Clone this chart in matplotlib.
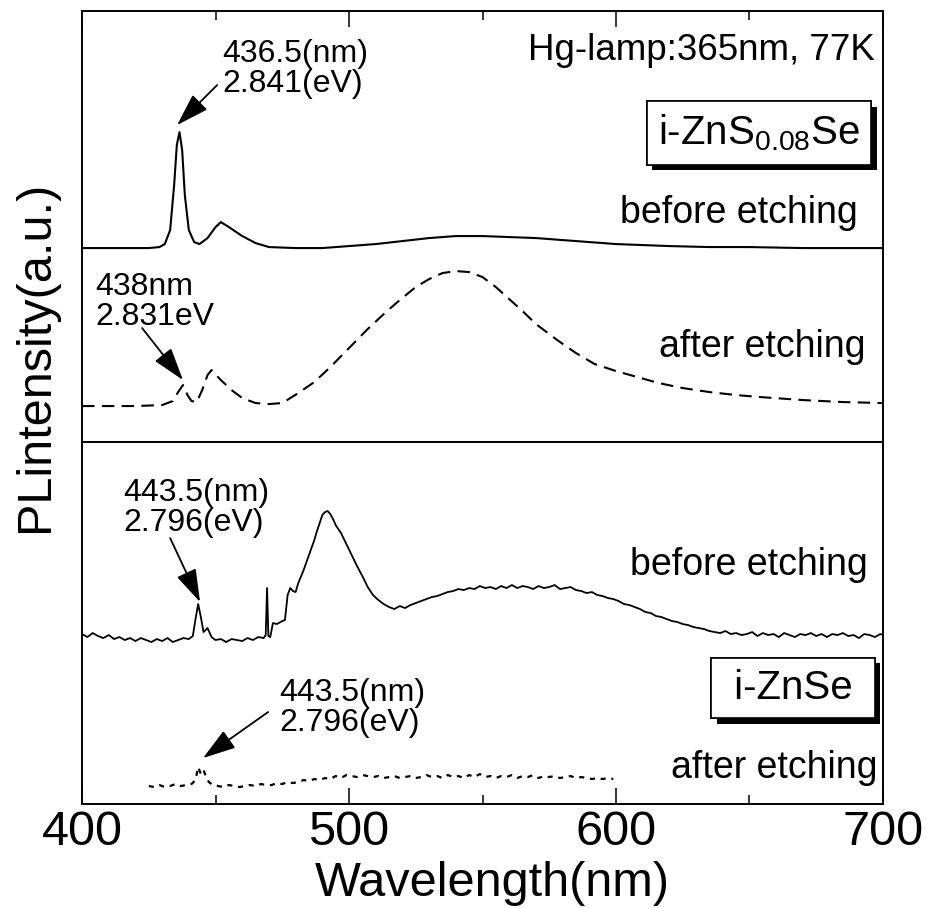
import matplotlib
matplotlib.use('Agg')
import matplotlib.pyplot as plt
import matplotlib.patheffects as pe
import numpy as np

plt.rcParams['font.family'] = ['Liberation Sans', 'DejaVu Sans']
plt.rcParams['mathtext.fontset'] = 'custom'
plt.rcParams['mathtext.rm'] = 'Liberation Sans'
plt.rcParams['mathtext.default'] = 'regular'

# i-ZnS0.08Se before etching (solid)
zss_before_wl = [400, 425, 429, 431, 433, 434.5, 435.5, 436.5, 437.5, 438.5, 440, 442, 444, 447,
                 450, 452, 455, 460, 465, 470, 480, 490, 500, 510, 520, 530, 540, 550, 560, 570,
                 580, 590, 600, 610, 620, 635, 650, 670, 700]
zss_before_y = [556, 556, 557, 560, 574, 619, 659, 672, 654, 609, 574, 562, 560, 566,
                577, 582, 577, 568, 561, 557, 556, 556, 558, 560, 563, 566, 568, 568, 567, 566,
                564, 562, 560, 559, 558, 557, 557, 556, 556]

# i-ZnS0.08Se after etching (dashed)
zss_after_wl = [400, 420, 430, 434, 436, 437.8, 439.5, 441, 443, 445, 447, 448.5, 452, 456, 460,
                465, 470, 475, 481, 487, 493, 500, 507, 513, 519, 525, 530, 535, 540, 545, 550,
                555, 560, 565, 570, 578, 585, 592, 600, 608, 616, 625, 635, 645, 654, 670, 685, 700]
zss_after_y = [398, 398, 399, 403, 412, 419, 409, 403, 402, 414, 429, 434, 424, 414, 406,
               401, 400, 401, 411, 422, 437, 456, 475, 490, 504, 517, 525, 531, 533, 532, 527,
               517, 505, 493, 480, 464, 451, 440, 433, 427, 421, 416, 412, 409, 407, 404, 402, 401]

# i-ZnSe before etching (solid, noisy)
zse_before_wl = [400, 402, 404, 406, 408, 410, 412, 414, 416, 418, 420, 422, 424, 426, 428, 430,
                 432, 434, 436, 438, 440, 441.5, 442.5, 443.5, 444.5, 445.5, 447, 448.5, 450, 452,
                 454, 456, 458, 460, 462, 464, 466, 468, 468.8, 469.3, 469.8, 470.5, 471.5, 473,
                 475, 476, 477, 478, 479, 480, 481, 483, 485, 487, 488, 489, 490, 491, 492, 493,
                 494, 495, 497, 499, 501, 503, 505, 507, 509, 511, 513, 515, 517, 519, 521, 523,
                 525, 527, 529, 531, 533, 535, 537, 539, 541, 543, 545, 547, 549, 551, 553, 555,
                 557, 559, 561, 563, 565, 567, 569, 571, 573, 575, 577, 579, 581, 583, 585, 587,
                 589, 591, 593, 595, 597, 599, 601, 603, 605, 607, 609, 611, 613, 615, 617, 619,
                 621, 623, 625, 627, 629, 631, 633, 635, 637, 639, 641, 643, 645, 647, 649, 651,
                 653, 655, 657, 659, 661, 663, 665, 667, 669, 671, 673, 675, 677, 679, 681, 683,
                 685, 687, 689, 691, 693, 695, 697, 699, 700]
zse_before_y = [170, 167, 171, 168, 166, 169, 165, 167, 164, 166, 163, 166, 164, 162, 165, 163,
                166, 162, 164, 166, 165, 168, 185, 200, 187, 172, 176, 167, 164, 165,
                162, 165, 164, 163, 166, 164, 167, 166, 169, 216, 168, 167, 181, 180,
                183, 184, 209, 216, 213, 212, 221, 234, 249, 264, 273, 281, 289, 292, 293, 290,
                285, 279, 271, 260, 249, 238, 228, 217, 209, 204, 200, 197, 195, 198, 196, 199,
                201, 203, 205, 207, 208, 210, 212, 213, 215, 214, 216, 215, 218, 216, 217, 215,
                218, 216, 219, 216, 218, 217, 215, 218, 216, 217, 219, 215, 216, 217, 214, 213,
                211, 212, 209, 208, 206, 205, 203, 200, 199, 197, 195, 192, 191, 188, 187, 185,
                183, 182, 180, 179, 177, 176, 175, 173, 172, 171, 173, 170, 171, 169, 170, 172,
                168, 171, 169, 170, 167, 171, 169, 167, 170, 169, 171, 168, 170, 167, 170, 169,
                171, 168, 169, 166, 170, 169, 167, 170, 169]

# i-ZnSe after etching (short dashes, noisy)
zse_after_wl = [425, 427, 429, 431, 433, 435, 437, 439, 441, 442.5, 443.5, 444.5, 445.5, 446.5,
                447.5, 449, 451, 453, 455, 457, 459, 461, 463, 465, 467, 469, 471, 473, 475, 477,
                479, 481, 483, 485, 487, 489, 491, 493, 495, 497, 499, 501, 503, 505, 507, 509,
                511, 513, 515, 517, 519, 521, 523, 525, 527, 529, 531, 533, 535, 537, 539, 541,
                543, 545, 547, 549, 551, 553, 555, 557, 559, 561, 563, 565, 567, 569, 571, 573,
                575, 577, 579, 581, 583, 585, 587, 589, 591, 593, 595, 597, 599]
zse_after_y = [18, 17, 19, 17, 18, 20, 18, 19, 20, 24, 37, 30, 34, 27,
               22, 19, 18, 17, 19, 18, 17, 18, 19, 18, 20, 19, 19, 21, 20, 22,
               21, 22, 24, 23, 25, 24, 26, 25, 28, 26, 29, 28, 27, 29, 28, 27,
               28, 26, 27, 28, 26, 27, 28, 26, 27, 29, 27, 28, 26, 29, 27, 28,
               26, 29, 27, 30, 27, 28, 26, 28, 27, 29, 26, 28, 27, 29, 26, 28,
               27, 28, 26, 27, 28, 26, 27, 26, 25, 26, 25, 26, 25]

divider_y = 362

fig = plt.figure(figsize=(9.27, 9.08), dpi=100)
ax = fig.add_axes([0.0885, 0.1145, 0.864, 0.8733])

ax.plot(zss_before_wl, zss_before_y, color='black', lw=1.5)
ax.plot(zss_after_wl, zss_after_y, color='black', lw=1.5, dashes=(6, 3.5))
ax.plot(zse_before_wl, zse_before_y, color='black', lw=1.3)
ax.plot(zse_after_wl, zse_after_y, color='black', lw=1.6, dashes=(2.3, 2.6))
ax.axhline(divider_y, color='black', lw=1.4)

ax.set_xlim(400, 700)
ax.set_ylim(0, 793)
ax.set_xticks([400, 500, 600, 700])
ax.set_xticks([450, 550, 650], minor=True)
ax.set_yticks([])
ax.tick_params(axis='x', which='major', direction='in', length=11.5, width=1.1,
               top=True, labelsize=35, pad=4)
ax.tick_params(axis='x', which='minor', direction='in', length=6.5, width=1.1, top=True)
for s in ax.spines.values():
    s.set_linewidth(1.4)

ax.set_xlabel('Wavelength(nm)', fontsize=35)
ax.xaxis.set_label_coords(0.512, -0.072)
ax.set_ylabel('PLintensity(a.u.)', fontsize=35)
ax.yaxis.set_label_coords(-0.03, 0.565)

# labels
ax.text(697, 754, 'Hg-lamp:365nm, 77K', fontsize=26.5, ha='right', va='center')
ax.text(690.6, 591, 'before etching', fontsize=27, ha='right', va='center')
ax.text(693.3, 457, 'after etching', fontsize=27, ha='right', va='center')
ax.text(694.4, 239, 'before etching', fontsize=27, ha='right', va='center')
ax.text(697.8, 36, 'after etching', fontsize=27, ha='right', va='center')

box = dict(boxstyle='square,pad=0.28', fc='white', ec='black', lw=1.2)
t1 = ax.text(653.5, 671, 'i-ZnS$_{0.08}$Se', fontsize=29, ha='center', va='center', bbox=box)
t2 = ax.text(666.3, 116, ' i-ZnSe ', fontsize=29, ha='center', va='center', bbox=box)
for t in (t1, t2):
    t.get_bbox_patch().set_path_effects([
        pe.withSimplePatchShadow(offset=(4, -4), shadow_rgbFace='black', alpha=1.0),
        pe.Normal()])

# peak annotations
arrow = dict(arrowstyle='-|>,head_length=1.2,head_width=0.38', color='black', lw=1.3,
             mutation_scale=17, shrinkA=0, shrinkB=0)
fs_note = 23
ax.text(452.4, 735, '436.5(nm)\n2.841(eV)', fontsize=fs_note, ha='left', va='center', linespacing=1.0)
ax.annotate('', xy=(435.6, 679), xytext=(450.6, 719), arrowprops=arrow)

ax.text(404.9, 502, '438nm\n2.831eV', fontsize=fs_note, ha='left', va='center', linespacing=1.0)
ax.annotate('', xy=(437.8, 424), xytext=(422.5, 476), arrowprops=arrow)

ax.text(415.4, 296, '443.5(nm)\n2.796(eV)', fontsize=fs_note, ha='left', va='center', linespacing=1.0)
ax.annotate('', xy=(444.2, 202), xytext=(433, 266), arrowprops=arrow)

ax.text(473.8, 96, '443.5(nm)\n2.796(eV)', fontsize=fs_note, ha='left', va='center', linespacing=1.0)
ax.annotate('', xy=(445.3, 46), xytext=(469.7, 92), arrowprops=arrow)

fig.savefig('out.png', dpi=100)
